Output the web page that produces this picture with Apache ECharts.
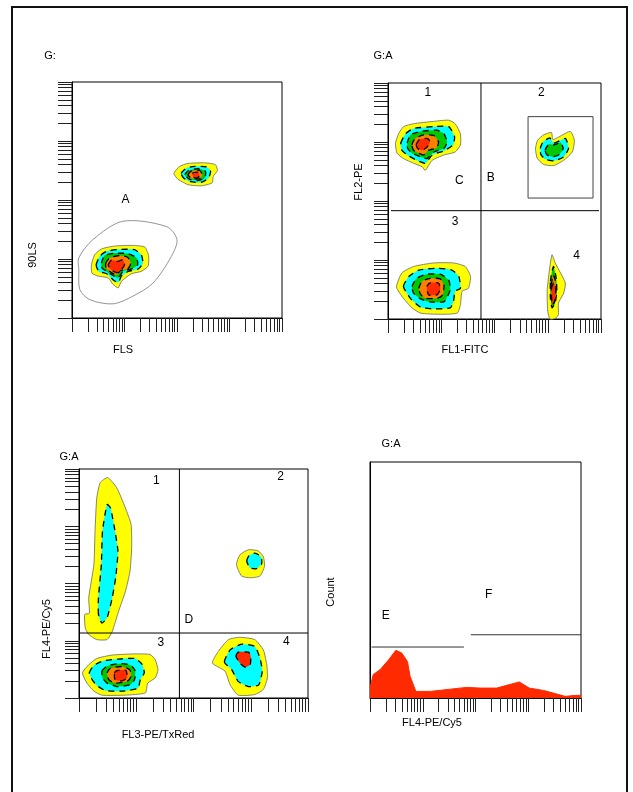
<!DOCTYPE html>
<html>
<head>
<meta charset="utf-8">
<script src="https://cdn.jsdelivr.net/npm/echarts@6/dist/echarts.min.js"></script>
<style>
  html, body { margin: 0; padding: 0; background: #fff; }
  #chart { width: 633px; height: 792px; }
</style>
</head>
<body>
<div id="chart"></div>
<script>
// all positions in log decades (0..4) of the cytometer channel scale
var decades = [0, 1, 2, 3];
var tickMultipliers = [1, 2, 3, 4, 5, 6, 7, 8, 9];
var levelColors = ['#ffff00', '#00ffff', '#00c800', '#ff8000', '#ff2a00'];

// panel 1 : FLS / 90LS
var p1High = [
    [[1.94,2.45],[2.05,2.57],[2.21,2.62],[2.53,2.63],[2.73,2.60],[2.77,2.50],[2.69,2.40],[2.67,2.29],[2.46,2.24],[2.21,2.26],[2.02,2.35]],
    [[2.08,2.45],[2.18,2.54],[2.34,2.57],[2.56,2.56],[2.64,2.49],[2.60,2.37],[2.46,2.30],[2.26,2.31],[2.13,2.37]],
    [[2.15,2.43],[2.22,2.50],[2.40,2.53],[2.54,2.49],[2.53,2.37],[2.40,2.33],[2.24,2.35]],
    [[2.21,2.43],[2.27,2.49],[2.43,2.50],[2.48,2.43],[2.43,2.36],[2.27,2.37]],
    [[2.29,2.45],[2.34,2.47],[2.41,2.47],[2.43,2.41],[2.37,2.37],[2.31,2.39]]
];
var p1Low = [
    [[0.37,0.90],[0.43,1.07],[0.56,1.17],[0.81,1.22],[1.19,1.23],[1.39,1.20],[1.46,1.05],[1.45,0.88],[1.32,0.79],[1.13,0.75],[0.94,0.62],[0.88,0.51],[0.78,0.57],[0.69,0.68],[0.50,0.71],[0.38,0.76]],
    [[0.46,0.90],[0.53,1.05],[0.66,1.13],[0.88,1.16],[1.19,1.16],[1.32,1.07],[1.35,0.93],[1.26,0.83],[1.07,0.79],[0.94,0.71],[0.88,0.60],[0.78,0.65],[0.66,0.75],[0.51,0.79]],
    [[0.56,0.93],[0.62,1.06],[0.81,1.10],[1.07,1.09],[1.23,1.02],[1.25,0.90],[1.13,0.83],[0.97,0.79],[0.88,0.68],[0.78,0.72],[0.66,0.79],[0.57,0.85]],
    [[0.64,0.92],[0.72,1.02],[0.91,1.06],[1.06,1.03],[1.12,0.93],[1.06,0.83],[0.93,0.81],[0.85,0.73],[0.75,0.77],[0.66,0.83]],
    [[0.69,0.90],[0.75,0.98],[0.88,0.96],[0.97,0.99],[1.00,0.90],[0.94,0.82],[0.85,0.77],[0.74,0.82]]
];
var p1GateA = [[0.13,1.02],[0.40,1.33],[0.97,1.64],[1.80,1.55],[2.00,1.33],[1.89,1.04],[1.54,0.59],[1.16,0.37],[0.78,0.24],[0.34,0.31],[0.15,0.48],[0.13,0.82]];
var p1Labels = [['A', 1.02, 2.00]];

// panel 2 : FL1-FITC / FL2-PE
var p2Q1 = [
    [[0.14,2.98],[0.20,3.14],[0.29,3.26],[0.48,3.31],[0.86,3.35],[1.14,3.37],[1.26,3.31],[1.36,3.14],[1.36,2.95],[1.26,2.83],[1.05,2.78],[0.83,2.69],[0.70,2.52],[0.64,2.58],[0.48,2.64],[0.29,2.72],[0.17,2.81]],
    [[0.24,2.98],[0.33,3.14],[0.48,3.23],[0.86,3.26],[1.14,3.26],[1.25,3.09],[1.22,2.95],[1.05,2.85],[0.83,2.78],[0.70,2.64],[0.54,2.69],[0.36,2.78],[0.26,2.86]],
    [[0.36,2.98],[0.42,3.12],[0.61,3.18],[0.92,3.20],[1.05,3.14],[1.11,3.00],[1.05,2.89],[0.86,2.83],[0.73,2.72],[0.61,2.75],[0.45,2.81],[0.37,2.89]],
    [[0.45,2.95],[0.51,3.06],[0.67,3.12],[0.86,3.11],[0.95,3.00],[0.91,2.90],[0.76,2.86],[0.67,2.78],[0.58,2.81],[0.48,2.86]],
    [[0.53,2.96],[0.59,3.04],[0.73,3.06],[0.79,3.01],[0.74,2.92],[0.64,2.86],[0.56,2.89]]
];
var p2Q2 = [
    [[2.77,2.89],[2.81,3.03],[2.92,3.12],[3.07,3.16],[3.10,3.04],[3.42,3.18],[3.50,3.03],[3.46,2.83],[3.30,2.69],[3.11,2.60],[2.92,2.62],[2.80,2.73]],
    [[2.86,2.89],[2.91,3.00],[3.04,3.07],[3.11,2.98],[3.33,3.06],[3.39,2.89],[3.30,2.75],[3.12,2.68],[2.95,2.71],[2.87,2.79]],
    [[2.95,2.86],[3.02,2.96],[3.12,2.95],[3.24,2.99],[3.29,2.89],[3.22,2.79],[3.10,2.75],[2.99,2.78]]
];
var p2Q3 = [
    [[0.16,0.54],[0.26,0.78],[0.48,0.89],[0.86,0.95],[1.23,0.95],[1.45,0.89],[1.55,0.72],[1.51,0.52],[1.39,0.47],[1.36,0.24],[1.30,0.10],[0.98,0.08],[0.61,0.10],[0.45,0.19],[0.29,0.35]],
    [[0.29,0.55],[0.39,0.72],[0.58,0.83],[0.92,0.86],[1.20,0.83],[1.33,0.72],[1.36,0.52],[1.26,0.47],[1.23,0.30],[1.17,0.19],[0.86,0.17],[0.61,0.20],[0.42,0.35]],
    [[0.45,0.55],[0.54,0.69],[0.73,0.76],[0.98,0.76],[1.14,0.66],[1.17,0.50],[1.10,0.35],[1.05,0.29],[0.79,0.29],[0.61,0.34],[0.48,0.44]],
    [[0.58,0.52],[0.64,0.64],[0.79,0.69],[0.98,0.68],[1.05,0.58],[1.03,0.41],[0.92,0.35],[0.70,0.35],[0.61,0.42]],
    [[0.73,0.55],[0.78,0.61],[0.95,0.61],[0.98,0.50],[0.92,0.41],[0.76,0.41]]
];
var p2Q4 = [
    [[2.99,0.50],[3.02,0.75],[3.05,0.95],[3.08,1.09],[3.14,0.95],[3.24,0.78],[3.33,0.61],[3.30,0.44],[3.20,0.27],[3.20,0.07],[3.14,0.01],[3.04,0.00],[3.00,0.13],[2.99,0.33]],
    null,
    [[3.05,0.64],[3.08,0.81],[3.11,0.89],[3.16,0.69],[3.17,0.47],[3.14,0.27],[3.08,0.19],[3.05,0.35]],
    [[3.07,0.58],[3.10,0.75],[3.14,0.66],[3.15,0.41],[3.11,0.24],[3.07,0.35]],
    [[3.07,0.52],[3.11,0.61],[3.15,0.52],[3.14,0.33],[3.09,0.24],[3.07,0.38]]
];
var p2QuadV = [[1.746, 0], [1.746, 4]];
var p2QuadH = [[0.056, 1.836], [3.962, 1.836]];
var p2GateBox = [[2.63,2.05],[3.85,2.05],[3.85,3.43],[2.63,3.43],[2.63,2.05]];
var p2Labels = [['1',0.75,3.83],['2',2.88,3.83],['C',1.34,2.34],['B',1.93,2.40],['3',1.26,1.65],['4',3.54,1.08]];

// panel 3 : FL3-PE/TxRed / FL4-PE/Cy5
var p3Q1 = [
    [[0.11,1.22],[0.10,1.46],[0.18,1.48],[0.17,1.75],[0.26,2.33],[0.28,2.91],[0.31,3.49],[0.37,3.76],[0.50,3.85],[0.66,3.67],[0.81,3.32],[0.91,3.03],[0.92,2.62],[0.89,2.21],[0.81,1.86],[0.69,1.51],[0.58,1.16],[0.49,1.02],[0.31,1.02],[0.17,1.11]],
    [[0.34,1.46],[0.34,1.75],[0.39,2.33],[0.41,2.91],[0.49,3.38],[0.55,3.32],[0.63,2.91],[0.68,2.56],[0.64,2.10],[0.58,1.75],[0.49,1.40],[0.40,1.31]]
];
var p3Q2 = [
    [[2.75,2.33],[2.81,2.50],[2.96,2.59],[3.13,2.57],[3.22,2.47],[3.24,2.30],[3.16,2.13],[2.99,2.10],[2.84,2.13]],
    [[2.93,2.39],[2.97,2.49],[3.07,2.53],[3.18,2.47],[3.19,2.34],[3.10,2.26],[2.99,2.27]]
];
var p3Q3 = [
    [[0.06,0.44],[0.17,0.58],[0.31,0.69],[0.58,0.75],[0.98,0.77],[1.24,0.76],[1.33,0.67],[1.38,0.49],[1.33,0.35],[1.20,0.26],[1.16,0.09],[0.81,0.05],[0.40,0.05],[0.26,0.12],[0.14,0.26]],
    [[0.18,0.44],[0.26,0.57],[0.43,0.65],[0.69,0.68],[0.98,0.69],[1.10,0.59],[1.14,0.44],[1.07,0.32],[1.03,0.17],[0.75,0.12],[0.46,0.13],[0.31,0.22],[0.23,0.32]],
    [[0.40,0.47],[0.49,0.56],[0.69,0.60],[0.89,0.58],[0.98,0.48],[0.97,0.32],[0.89,0.23],[0.66,0.20],[0.49,0.26],[0.41,0.35]],
    [[0.49,0.44],[0.55,0.52],[0.75,0.55],[0.89,0.49],[0.91,0.38],[0.84,0.29],[0.63,0.26],[0.52,0.32]],
    [[0.62,0.44],[0.66,0.48],[0.82,0.48],[0.84,0.35],[0.75,0.30],[0.63,0.32]]
];
var p3Q4 = [
    [[2.33,0.61],[2.43,0.81],[2.61,1.02],[2.81,1.06],[3.07,1.02],[3.22,0.84],[3.28,0.58],[3.29,0.35],[3.22,0.15],[3.07,0.06],[2.78,0.05],[2.64,0.23],[2.55,0.47]],
    [[2.54,0.63],[2.64,0.84],[2.84,0.94],[3.07,0.90],[3.16,0.70],[3.20,0.47],[3.14,0.23],[2.96,0.20],[2.78,0.29],[2.67,0.49]],
    null,
    null,
    [[2.74,0.73],[2.78,0.80],[2.96,0.80],[3.00,0.73],[2.99,0.58],[2.90,0.54],[2.81,0.61]]
];
var p3QuadV = [[1.754, 0], [1.754, 4]];
var p3QuadH = [[0, 1.135], [4, 1.135]];
var p3Labels = [['1',1.35,3.80],['2',3.52,3.86],['D',1.92,1.37],['3',1.43,0.97],['4',3.62,0.98]];

// panel 4 : FL4-PE/Cy5 histogram
var histChannel = [0.00,0.06,0.19,0.35,0.49,0.60,0.71,0.76,0.87,1.14,1.83,2.09,2.40,2.83,3.02,3.29,3.54,3.70,3.89,4.00];
var histCount   = [4.2, 9.9, 12.0,16.1,20.2,19.1,15.5,9.2, 2.8, 2.8, 4.5, 4.2, 4.2, 6.8, 4.2, 3.2, 1.7, 0.7, 1.1, 1.1];
var gateE = [[0.03, 21.6], [1.78, 21.6]];
var gateF = [[1.91, 26.8], [4.00, 26.8]];
var p4Labels = [['E',0.30,35.0],['F',2.25,43.9]];

var logTicks = [];
decades.forEach(function (d) {
    tickMultipliers.forEach(function (m) { logTicks.push(d + Math.log10(m)); });
});
logTicks.push(4);

var FONT = '"Liberation Sans", Arial, sans-serif';

var myChart = echarts.init(document.getElementById('chart'));

function decadeAxis(gi, ticks) {
    return {
        type: 'value', gridIndex: gi, min: 0, max: 4,
        axisLine: { show: true, onZero: false, lineStyle: { color: '#000', width: 1 } },
        axisTick: { show: ticks, customValues: logTicks, length: 14, inside: false,
                    lineStyle: { color: '#222', width: 1 } },
        axisLabel: { show: false },
        splitLine: { show: false }
    };
}

function contourSeries(gi, clusters) {
    var items = [];
    clusters.forEach(function (levels) {
        levels.forEach(function (poly, li) {
            if (poly) items.push({ poly: poly, level: li });
        });
    });
    return {
        type: 'custom', xAxisIndex: gi, yAxisIndex: gi, silent: true, animation: false,
        data: items.map(function (it) { return it.poly[0]; }),
        renderItem: function (params, api) {
            var it = items[params.dataIndex];
            var pts = it.poly.map(function (p) { return api.coord(p); });
            var outer = it.level === 0;
            return {
                type: 'polygon',
                shape: { points: pts, smooth: 0.18 },
                style: {
                    fill: levelColors[it.level],
                    stroke: outer ? '#666' : '#000',
                    lineWidth: outer ? 0.8 : 1.3,
                    lineDash: outer ? null : [6, 5]
                }
            };
        }
    };
}

function labelSeries(gi, labels) {
    return {
        type: 'custom', xAxisIndex: gi, yAxisIndex: gi, silent: true, animation: false,
        data: labels.map(function (l) { return [l[1], l[2]]; }),
        renderItem: function (params, api) {
            var p = api.coord([api.value(0), api.value(1)]);
            return {
                type: 'text', x: p[0], y: p[1],
                style: { text: labels[params.dataIndex][0], fill: '#000', font: '12px ' + FONT,
                         textAlign: 'center', textVerticalAlign: 'middle' }
            };
        }
    };
}

function lineSeries(gi, data, color, width) {
    return {
        type: 'line', xAxisIndex: gi, yAxisIndex: gi, data: data, symbol: 'none',
        silent: true, animation: false,
        lineStyle: { color: color, width: width || 1 }
    };
}

function gateSeries(gi, data) {
    return {
        type: 'custom', xAxisIndex: gi, yAxisIndex: gi, silent: true, animation: false,
        data: [data[0]],
        renderItem: function (params, api) {
            return {
                type: 'polygon',
                shape: { points: data.map(function (p) { return api.coord(p); }), smooth: 0.3 },
                style: { fill: 'none', stroke: '#888', lineWidth: 0.9 }
            };
        }
    };
}

function txt(text, x, y, rot) {
    return {
        type: 'text', x: x, y: y, rotation: rot || 0,
        style: { text: text, fill: '#000', font: '11px ' + FONT,
                 textAlign: 'center', textVerticalAlign: 'middle' }
    };
}

var gridStyle = { show: true, borderColor: '#000', borderWidth: 1, backgroundColor: 'transparent' };

var option = {
    backgroundColor: '#fff',
    animation: false,
    grid: [
        Object.assign({ left: 72, top: 82, width: 210, height: 236 }, gridStyle),
        Object.assign({ left: 388, top: 83, width: 213, height: 236 }, gridStyle),
        Object.assign({ left: 79, top: 469, width: 229, height: 229 }, gridStyle),
        Object.assign({ left: 370, top: 462, width: 211, height: 236 }, gridStyle)
    ],
    xAxis: [decadeAxis(0, true), decadeAxis(1, true), decadeAxis(2, true), decadeAxis(3, true)],
    yAxis: [decadeAxis(0, true), decadeAxis(1, true), decadeAxis(2, true),
        {
            type: 'value', gridIndex: 3, min: 0, max: 100,
            axisLine: { show: true, lineStyle: { color: '#000' } },
            axisTick: { show: false }, axisLabel: { show: false }, splitLine: { show: false }
        }],
    series: [
        contourSeries(0, [p1High, p1Low]),
        gateSeries(0, p1GateA),
        labelSeries(0, p1Labels),

        contourSeries(1, [p2Q1, p2Q2, p2Q3, p2Q4]),
        lineSeries(1, p2QuadV, '#000'),
        lineSeries(1, p2QuadH, '#000'),
        lineSeries(1, p2GateBox, '#444'),
        labelSeries(1, p2Labels),

        contourSeries(2, [p3Q1, p3Q2, p3Q3, p3Q4]),
        lineSeries(2, p3QuadV, '#000'),
        lineSeries(2, p3QuadH, '#000'),
        labelSeries(2, p3Labels),

        {
            type: 'line', xAxisIndex: 3, yAxisIndex: 3, symbol: 'none', silent: true, animation: false,
            data: histChannel.map(function (c, i) { return [c, histCount[i]]; }),
            lineStyle: { color: '#ff2a00', width: 1 },
            areaStyle: { color: '#ff2a00', opacity: 1 }
        },
        lineSeries(3, gateE, '#333'),
        lineSeries(3, gateF, '#333'),
        labelSeries(3, p4Labels)
    ],
    graphic: [
        { type: 'rect', shape: { x: 12, y: 7, width: 615, height: 800 },
          style: { fill: 'none', stroke: '#111', lineWidth: 2 }, silent: true },
        txt('G:', 50, 56),
        txt('G:A', 383, 56),
        txt('G:A', 69, 457),
        txt('G:A', 391, 444),
        txt('FLS', 123, 350),
        txt('90LS', 33, 255, Math.PI / 2),
        txt('FL1-FITC', 465, 350),
        txt('FL2-PE', 359, 182, Math.PI / 2),
        txt('FL3-PE/TxRed', 158, 735),
        txt('FL4-PE/Cy5', 47, 629, Math.PI / 2),
        txt('FL4-PE/Cy5', 432, 723),
        txt('Count', 331, 592, Math.PI / 2)
    ]
};

myChart.setOption(option);
</script>
</body>
</html>
